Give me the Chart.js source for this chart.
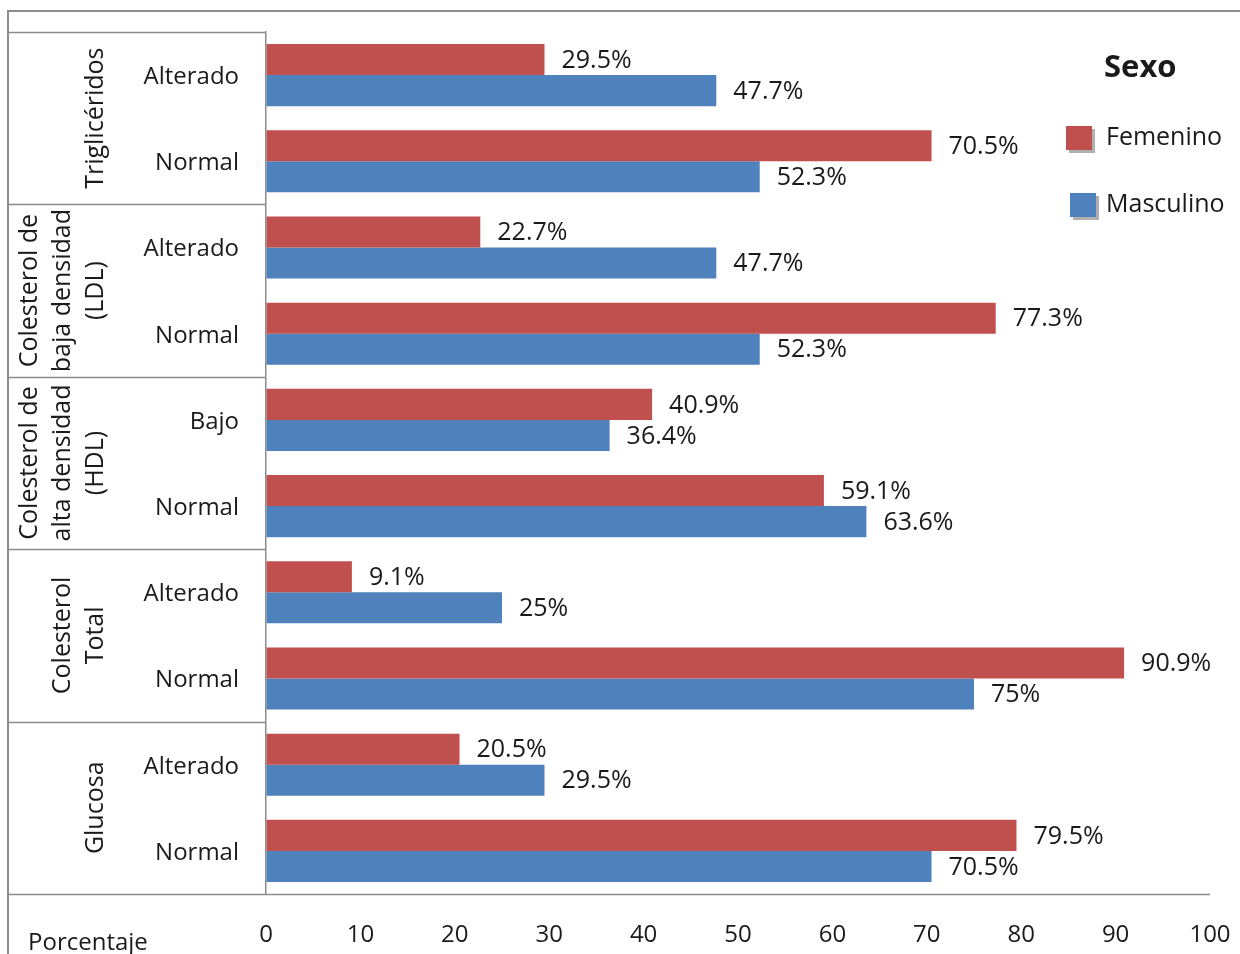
<!DOCTYPE html>
<html lang="es">
<head>
<meta charset="utf-8">
<title>Perfil lipídico y glucosa por sexo</title>
<script src="https://cdn.jsdelivr.net/npm/chart.js@4/dist/chart.umd.min.js"></script>
<style>
  html, body { margin: 0; padding: 0; background: #fff; overflow: hidden; }
  #wrap { width: 1240px; height: 954px; position: relative; }
</style>
</head>
<body>
<div id="wrap"><canvas id="perfilChart" width="1240" height="954"></canvas></div>
<script>
// Datos (orden de arriba hacia abajo)
const grupos = [
    ['Triglicéridos'],
    ['Colesterol de', 'baja densidad', '(LDL)'],
    ['Colesterol de', 'alta densidad', '(HDL)'],
    ['Colesterol', 'Total'],
    ['Glucosa']
];
const subcategorias = ['Alterado', 'Normal', 'Alterado', 'Normal', 'Bajo', 'Normal', 'Alterado', 'Normal', 'Alterado', 'Normal'];
const femenino  = [29.5, 70.5, 22.7, 77.3, 40.9, 59.1, 9.1, 90.9, 20.5, 79.5];
const masculino = [47.7, 52.3, 47.7, 52.3, 36.4, 63.6, 25, 75, 29.5, 70.5];
const ejeX = { min: 0, max: 100, paso: 10 };

const FUENTE = '"Open Sans", "DejaVu Sans", sans-serif';
const ROJO = '#C0504D';
const AZUL = '#4F81BD';
const GRIS = '#8c8c8c';

// Etiquetas de valor, tabla de grupos, leyenda y marco
const decoraciones = {
    id: 'decoraciones',
    afterDraw(chart) {
        const ctx = chart.ctx;
        const area = chart.chartArea;
        const y = chart.scales.y;
        const paso = y.getPixelForValue(1) - y.getPixelForValue(0);

        ctx.save();

        // valores al final de cada barra
        ctx.font = '25px ' + FUENTE;
        ctx.fillStyle = '#1a1a1a';
        ctx.textAlign = 'left';
        ctx.textBaseline = 'middle';
        chart.data.datasets.forEach((ds, i) => {
            chart.getDatasetMeta(i).data.forEach((bar, j) => {
                ctx.fillText(ds.data[j] + '%', bar.x + 17, bar.y + 1);
            });
        });

        // marco exterior
        ctx.strokeStyle = GRIS;
        ctx.lineWidth = 2;
        ctx.beginPath();
        ctx.moveTo(8, 954);
        ctx.lineTo(8, 11);
        ctx.lineTo(1240, 11);
        ctx.stroke();

        // tabla de categorías a la izquierda
        ctx.lineWidth = 1.5;
        ctx.beginPath();
        for (let g = 0; g <= grupos.length; g++) {
            const py = Math.round(y.getPixelForValue(g * 2) - paso / 2) + 0.5;
            ctx.moveTo(8, py);
            ctx.lineTo(area.left, py);
        }
        ctx.moveTo(area.left, area.bottom + 0.5);
        ctx.lineTo(area.right, area.bottom + 0.5);
        ctx.stroke();

        // nombres de grupo en vertical
        ctx.font = '25px ' + FUENTE;
        ctx.fillStyle = '#1a1a1a';
        ctx.textAlign = 'center';
        ctx.textBaseline = 'middle';
        grupos.forEach((lineas, g) => {
            const cy = (y.getPixelForValue(g * 2) + y.getPixelForValue(g * 2 + 1)) / 2;
            lineas.forEach((txt, k) => {
                const cx = 96 - (lineas.length - 1 - k) * 33;
                ctx.save();
                ctx.translate(cx, cy);
                ctx.rotate(-Math.PI / 2);
                ctx.fillText(txt, 0, 0);
                ctx.restore();
            });
        });

        // título del eje
        ctx.font = '24px ' + FUENTE;
        ctx.textAlign = 'left';
        ctx.fillText('Porcentaje', 28, 943);

        // leyenda
        ctx.font = 'bold 31px ' + FUENTE;
        ctx.textAlign = 'left';
        ctx.fillText('Sexo', 1104, 68);
        ctx.font = '25px ' + FUENTE;
        const filas = [[1066, 138], [1070, 205]];
        chart.data.datasets.forEach((ds, i) => {
            const [lx, ly] = filas[i];
            ctx.fillStyle = 'rgba(110,110,110,0.55)';
            ctx.fillRect(lx + 3, ly - 9, 26, 24);
            ctx.fillStyle = ds.backgroundColor;
            ctx.fillRect(lx, ly - 12, 26, 24);
            ctx.fillStyle = '#1a1a1a';
            ctx.fillText(ds.label, 1106, ly);
        });

        ctx.restore();
    }
};

const ctx = document.getElementById('perfilChart').getContext('2d');
new Chart(ctx, {
    type: 'bar',
    data: {
        labels: subcategorias,
        datasets: [
            { label: 'Femenino', data: femenino, backgroundColor: ROJO },
            { label: 'Masculino', data: masculino, backgroundColor: AZUL }
        ]
    },
    options: {
        indexAxis: 'y',
        responsive: false,
        animation: false,
        devicePixelRatio: 1,
        layout: { padding: { left: 8, top: 32, right: 30, bottom: 0 } },
        datasets: { bar: { categoryPercentage: 0.72, barPercentage: 1 } },
        plugins: {
            legend: { display: false },
            tooltip: { enabled: false }
        },
        scales: {
            x: {
                min: ejeX.min,
                max: ejeX.max,
                afterFit: (s) => { s.height = 60; },
                // marcas invisibles: solo separan las etiquetas del eje
                grid: { display: true, drawOnChartArea: false, drawTicks: true, tickLength: 27, tickColor: 'rgba(0,0,0,0)' },
                border: { display: false },
                ticks: {
                    stepSize: ejeX.paso,
                    padding: 0,
                    color: '#1a1a1a',
                    font: { family: FUENTE, size: 24 }
                }
            },
            y: {
                afterFit: (s) => { s.width = 258; },
                grid: { display: true, drawOnChartArea: false, drawTicks: true, tickLength: 27, tickColor: 'rgba(0,0,0,0)' },
                border: { display: true, color: GRIS, width: 1.5 },
                ticks: {
                    padding: 0,
                    labelOffset: 2,
                    color: '#1a1a1a',
                    font: { family: FUENTE, size: 24 }
                }
            }
        }
    },
    plugins: [decoraciones]
});
</script>
</body>
</html>
